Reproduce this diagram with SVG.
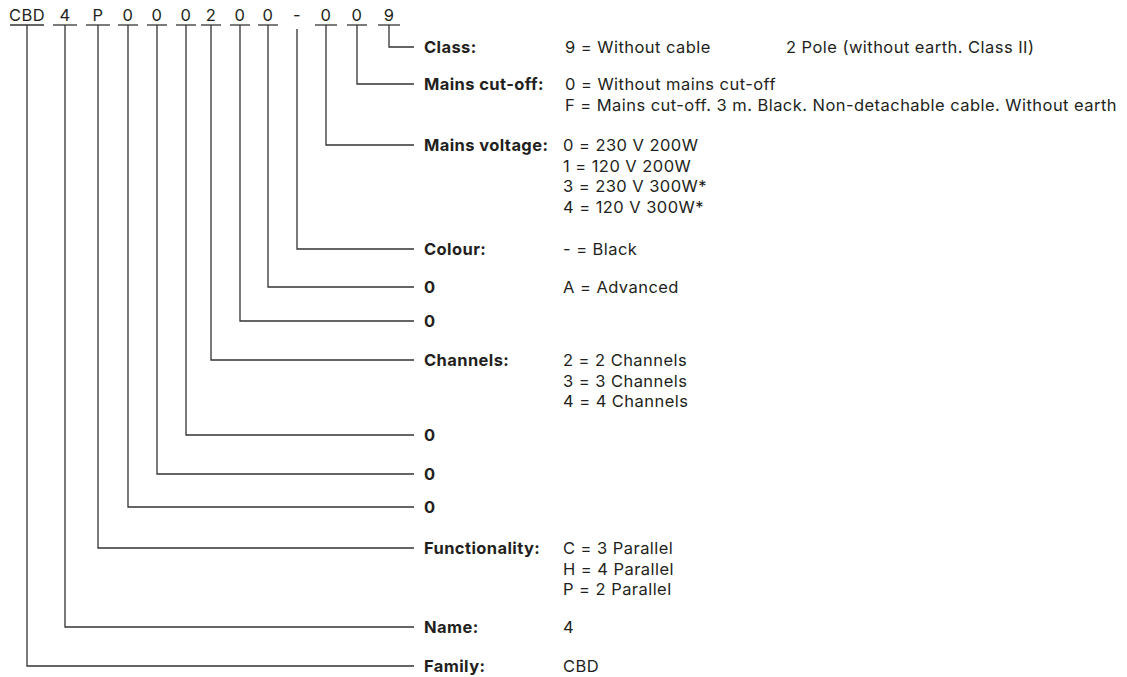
<svg xmlns="http://www.w3.org/2000/svg" width="1127" height="677" viewBox="0 0 1127 677">
<style>
text{font-family:Inter,"Open Sans","Liberation Sans",sans-serif;fill:#231f20;font-size:16.5px;letter-spacing:0.45px}
.lb{font-weight:bold;font-size:16.5px;letter-spacing:0.4px}
.cd{font-size:16.5px;letter-spacing:0}
.ln{fill:none;stroke:#333;stroke-width:1.3}
.ul{stroke:#333;stroke-width:1.3}
</style>
<rect width="1127" height="677" fill="#fff"/>
<g id="code" class="cd">
<text x="27" y="21" text-anchor="middle">CBD</text>
<text x="65" y="21" text-anchor="middle">4</text>
<text x="98" y="21" text-anchor="middle">P</text>
<text x="128" y="21" text-anchor="middle">0</text>
<text x="157" y="21" text-anchor="middle">0</text>
<text x="186" y="21" text-anchor="middle">0</text>
<text x="211" y="21" text-anchor="middle">2</text>
<text x="240" y="21" text-anchor="middle">0</text>
<text x="268" y="21" text-anchor="middle">0</text>
<text x="297" y="21" text-anchor="middle">-</text>
<text x="326" y="21" text-anchor="middle">0</text>
<text x="357" y="21" text-anchor="middle">0</text>
<text x="389" y="21" text-anchor="middle">9</text>
<g class="ul">
<line x1="10" y1="25" x2="44" y2="25"/>
<line x1="53" y1="25" x2="77" y2="25"/>
<line x1="86" y1="25" x2="110" y2="25"/>
<line x1="118" y1="25" x2="138" y2="25"/>
<line x1="147" y1="25" x2="167" y2="25"/>
<line x1="176" y1="25" x2="196" y2="25"/>
<line x1="201" y1="25" x2="221" y2="25"/>
<line x1="230" y1="25" x2="250" y2="25"/>
<line x1="258" y1="25" x2="278" y2="25"/>
<line x1="315" y1="25" x2="337" y2="25"/>
<line x1="347" y1="25" x2="367" y2="25"/>
<line x1="378" y1="25" x2="400" y2="25"/>
</g>
</g>
<g id="connectors" class="ln">
<polyline points="389,25 389,47 414,47"/>
<polyline points="357,25 357,84 414,84"/>
<polyline points="326,25 326,145 414,145"/>
<polyline points="297,29 297,249 414,249"/>
<polyline points="268,25 268,287 414,287"/>
<polyline points="240,25 240,321 414,321"/>
<polyline points="211,25 211,360 414,360"/>
<polyline points="186,25 186,435 414,435"/>
<polyline points="157,25 157,474 414,474"/>
<polyline points="128,25 128,507 414,507"/>
<polyline points="98,25 98,548 414,548"/>
<polyline points="65,25 65,627 414,627"/>
<polyline points="27,25 27,666 414,666"/>
</g>
<g id="class"><text class="lb" x="424" y="53">Class:</text><text x="565" y="53">9 = Without cable</text><text x="786" y="53">2 Pole (without earth. Class II)</text></g>
<g id="mains-cutoff"><text class="lb" x="424" y="90">Mains cut-off:</text><text x="565" y="90">0 = Without mains cut-off</text><text x="565" y="110.5">F = Mains cut-off. 3 m. Black. Non-detachable cable. Without earth</text></g>
<g id="mains-voltage"><text class="lb" x="424" y="151">Mains voltage:</text><text x="563" y="151">0 = 230 V 200W</text><text x="563" y="171.5">1 = 120 V 200W</text><text x="563" y="192">3 = 230 V 300W*</text><text x="563" y="212.5">4 = 120 V 300W*</text></g>
<g id="colour"><text class="lb" x="424" y="255">Colour:</text><text x="563" y="255">- = Black</text></g>
<g id="digit-a"><text class="lb" x="424" y="293">0</text><text x="563" y="293">A = Advanced</text></g>
<g id="digit-b"><text class="lb" x="424" y="327">0</text></g>
<g id="channels"><text class="lb" x="424" y="366">Channels:</text><text x="563" y="366">2 = 2 Channels</text><text x="563" y="386.5">3 = 3 Channels</text><text x="563" y="407">4 = 4 Channels</text></g>
<g id="digit-c"><text class="lb" x="424" y="441">0</text></g>
<g id="digit-d"><text class="lb" x="424" y="480">0</text></g>
<g id="digit-e"><text class="lb" x="424" y="513">0</text></g>
<g id="functionality"><text class="lb" x="424" y="554">Functionality:</text><text x="563" y="554">C = 3 Parallel</text><text x="563" y="574.5">H = 4 Parallel</text><text x="563" y="595">P = 2 Parallel</text></g>
<g id="name"><text class="lb" x="424" y="633">Name:</text><text x="563" y="633">4</text></g>
<g id="family"><text class="lb" x="424" y="672">Family:</text><text x="563" y="672">CBD</text></g>
</svg>
